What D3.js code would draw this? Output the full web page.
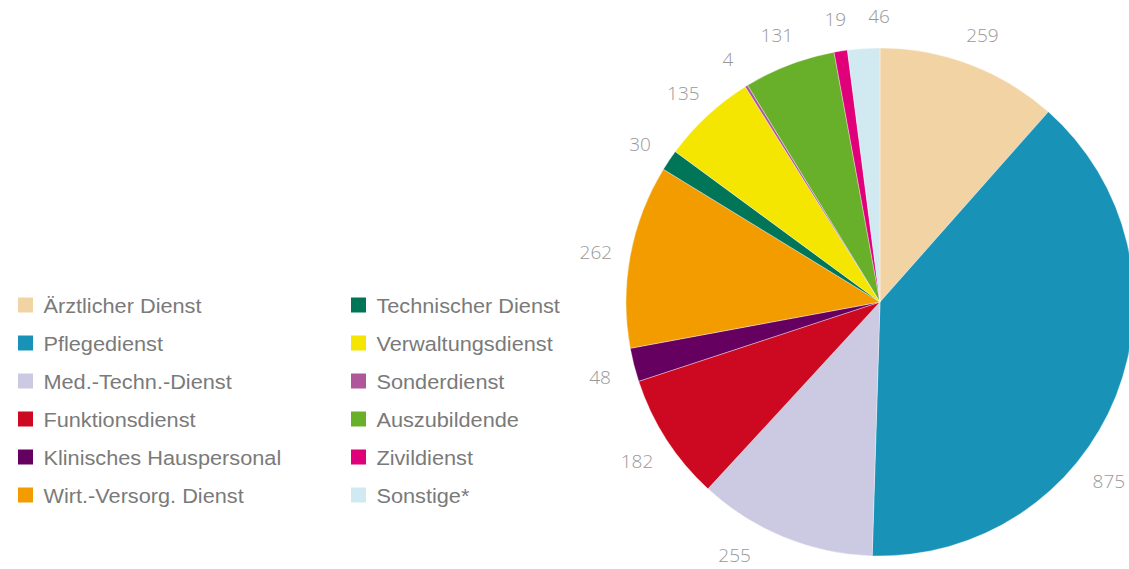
<!DOCTYPE html>
<html>
<head>
<meta charset="utf-8">
<script src="https://cdn.jsdelivr.net/npm/d3@7"></script>
<style>
  body { margin: 0; background: #fff; }
  svg { display: block; }
</style>
</head>
<body>
<div id="chart"></div>
<script>
// Daten
const categories = [
  "Ärztlicher Dienst", "Pflegedienst", "Med.-Techn.-Dienst", "Funktionsdienst",
  "Klinisches Hauspersonal", "Wirt.-Versorg. Dienst", "Technischer Dienst",
  "Verwaltungsdienst", "Sonderdienst", "Auszubildende", "Zivildienst", "Sonstige*"
];
const values = [259, 875, 255, 182, 48, 262, 30, 135, 4, 131, 19, 46];
const colors = [
  "#f2d3a4", "#1893b7", "#ccc9e2", "#cc0920", "#660060", "#f39c00",
  "#007558", "#f4e600", "#b0569a", "#69b02a", "#e0007a", "#d1e9f1"
];

const width = 1129, height = 569;
const cx = 880, cy = 302, radius = 254, labelR = 289;

const svg = d3.select("#chart").append("svg")
  .attr("width", width)
  .attr("height", height);

const data = categories.map((c, i) => ({ name: c, value: values[i], color: colors[i] }));

const pie = d3.pie().sort(null).value(d => d.value);
const arc = d3.arc().innerRadius(0).outerRadius(radius);
const arcs = pie(data);

const g = svg.append("g").attr("transform", `translate(${cx},${cy})`);

g.selectAll("path.slice")
  .data(arcs)
  .enter()
  .append("path")
  .attr("class", "slice")
  .attr("d", arc)
  .attr("fill", d => d.data.color)
  .attr("stroke", "#fff")
  .attr("stroke-width", 0.6)
  .attr("stroke-opacity", 0.6);

// Beschriftungen – auf Kreis um den Mittelpunkt, an den Rand geschoben falls nötig
const labelSize = 19;
const digitW = 0.572 * labelSize;
const polar = a => [cx + labelR * Math.sin(a), cy + 3 - labelR * Math.cos(a)];
const step = Math.PI / 360;
const placed = [];

arcs.forEach(d => {
  const txt = String(d.data.value);
  const w = txt.length * digitW;
  let a = (d.startAngle + d.endAngle) / 2;
  let [x, y] = polar(a);
  // rechter Rand
  while (x > width - 20) {
    a += (a > Math.PI / 2 ? step : -step);
    [x, y] = polar(a);
  }
  // unterer Rand
  while (y > height - 13) {
    a += (a > Math.PI ? step : -step);
    [x, y] = polar(a);
  }
  // Überlappung mit vorherigem Label
  const prev = placed[placed.length - 1];
  if (prev) {
    let guard = 0;
    while (Math.abs(x - prev.x) < (w + prev.w) / 2 + 20 && Math.abs(y - prev.y) < 18 && guard < 200) {
      a += step;
      [x, y] = polar(a);
      guard++;
    }
  }
  placed.push({ x, y, w, txt });
});

svg.selectAll("text.val")
  .data(placed)
  .enter()
  .append("text")
  .attr("class", "val")
  .attr("x", d => d.x)
  .attr("y", d => d.y)
  .attr("text-anchor", "middle")
  .attr("dominant-baseline", "central")
  .attr("font-family", "'Open Sans', sans-serif")
  .attr("font-weight", 300)
  .attr("font-size", labelSize + "px")
  .attr("fill", "#999")
  .text(d => d.txt);

// Legende
const legend = svg.selectAll(".legend-item")
  .data(data)
  .enter()
  .append("g")
  .attr("class", "legend-item")
  .attr("transform", (d, i) => {
    const col = Math.floor(i / 6), row = i % 6;
    return `translate(${col === 0 ? 18 : 351}, ${305 + row * 38})`;
  });

legend.append("rect")
  .attr("x", 0)
  .attr("y", -7.5)
  .attr("width", 15)
  .attr("height", 15)
  .attr("fill", d => d.color);

legend.append("text")
  .attr("x", 24)
  .attr("y", 1)
  .attr("dominant-baseline", "central")
  .attr("font-family", "'Liberation Sans', Arial, sans-serif")
  .attr("font-size", "20.5px")
  .attr("transform", "scale(1.06,1)")
  .attr("fill", "#7a7a7a")
  .text(d => d.name);
</script>
</body>
</html>
